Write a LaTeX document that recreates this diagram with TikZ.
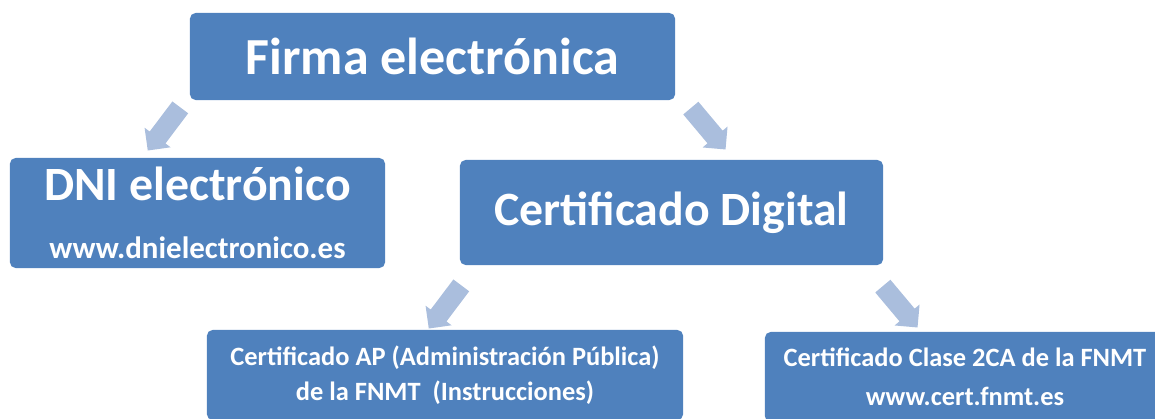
\documentclass[tikz,border=0pt]{standalone}
\usepackage{fontspec}
\setmainfont{Carlito}
\usetikzlibrary{shapes.arrows}

\begin{document}
\begin{tikzpicture}[x=0.025cm, y=-0.025cm]
    % Define colors
    \definecolor{boxblue}{RGB}{79,129,189}
    \definecolor{arrowblue}{RGB}{170,190,221}

    \tikzset{
        box/.style={fill=boxblue, rounded corners=4pt, text=white, align=center, inner sep=0pt},
        bigarrow/.style={single arrow, fill=arrowblue, inner xsep=0pt, inner ysep=0.24cm,
            minimum height=1.35cm, single arrow head extend=0.16cm}
    }

    % Frame of the picture
    \useasboundingbox (0,0) rectangle (1155,419);

    % Top box
    \node[box, minimum width=12.125cm, minimum height=2.175cm,
          font=\bfseries\fontsize{37}{44}\selectfont] (firma) at (432.5,56.5)
        {Firma electrónica};

    % Second row
    \node[box, minimum width=9.375cm, minimum height=2.75cm,
          font=\bfseries\fontsize{34}{41}\selectfont] (dni) at (197.5,213)
        {DNI electrónico\\
         \fontsize{22}{26}\selectfont www.dnielectronico.es};
    \node[box, minimum width=10.575cm, minimum height=2.625cm,
          font=\bfseries\fontsize{34}{41}\selectfont] (digital) at (671.5,212.5)
        {Certificado Digital};

    % Third row (cut by the frame)
    \node[box, minimum width=11.9cm, minimum height=2.25cm,
          font=\bfseries\fontsize{18.8}{25}\selectfont] (ap) at (445,375)
        {Certificado AP (Administración Pública)\\
         de la FNMT\ \ (Instrucciones)};
    \node[box, minimum width=10cm, minimum height=2.25cm,
          font=\bfseries\fontsize{18.8}{28}\selectfont] (clase) at (965,377)
        {Certificado Clase 2CA de la FNMT\\
         www.cert.fnmt.es};

    % Block arrows
    \node[bigarrow, rotate=233] (a1) at (167,125) {};
    \node[bigarrow, rotate=310] (a2) at (705,125) {};
    \node[bigarrow, rotate=233] (a3) at (448,303) {};
    \node[bigarrow, rotate=310] (a4) at (897,303) {};
\end{tikzpicture}
\end{document}
